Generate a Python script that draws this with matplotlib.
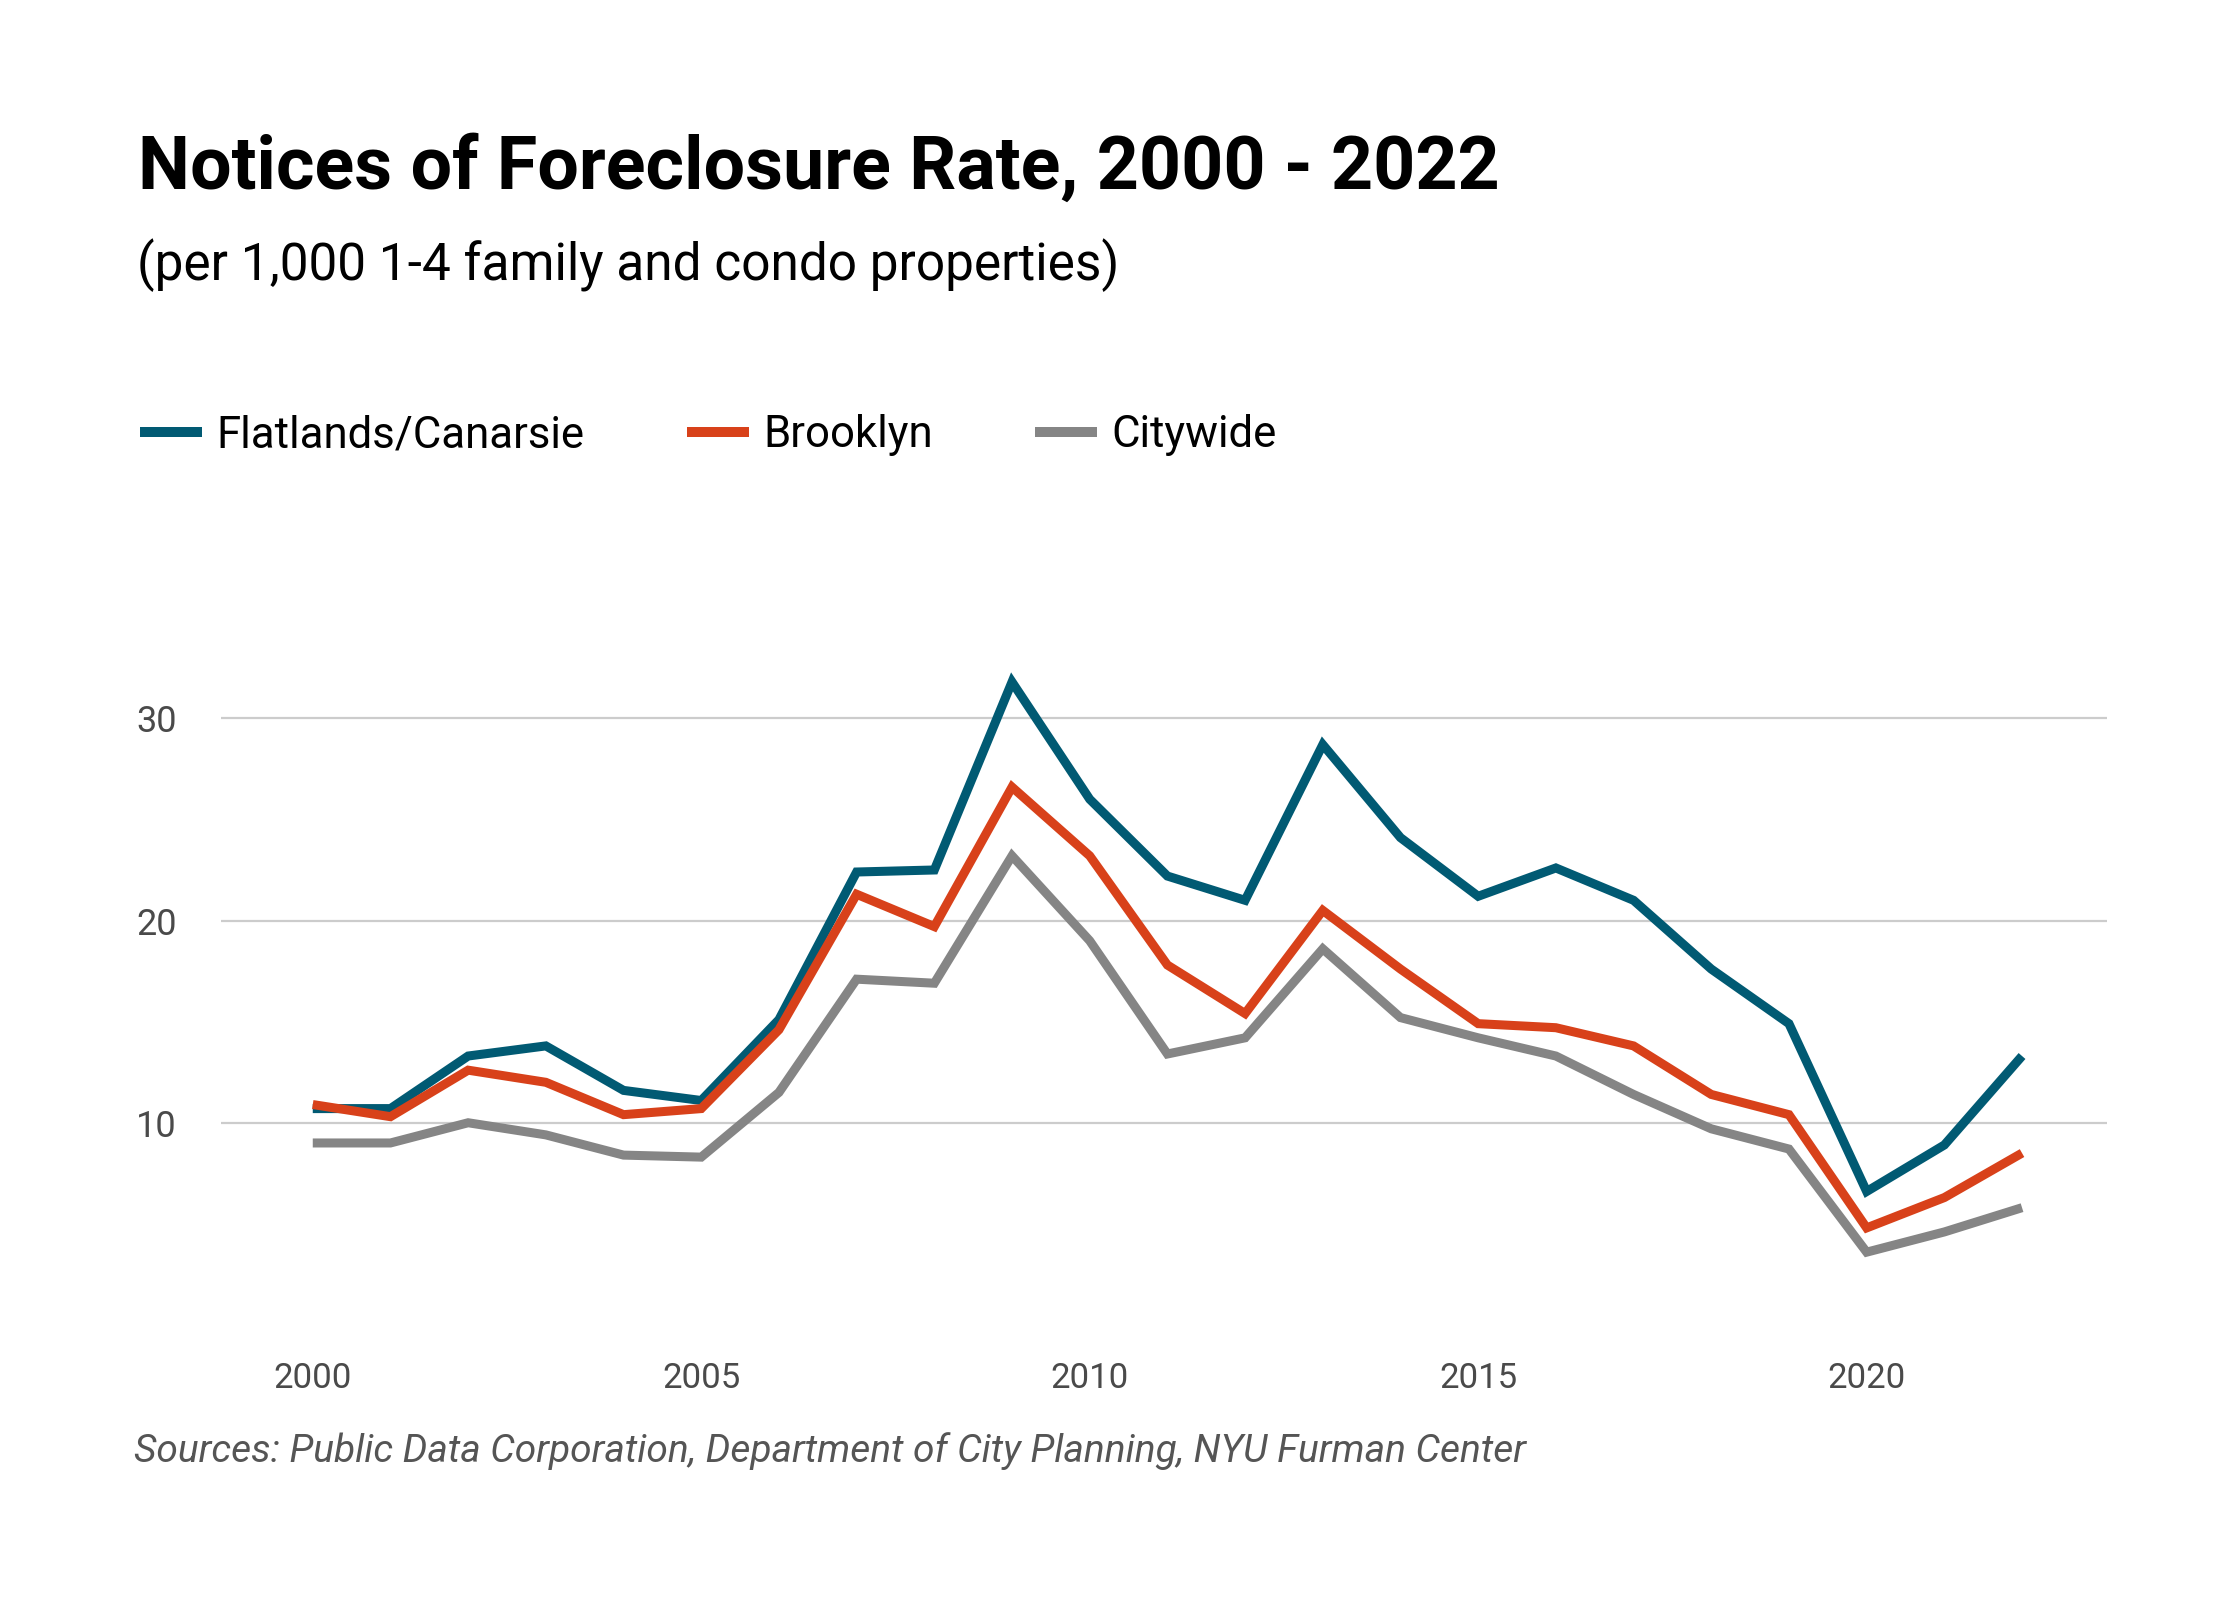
import numpy as np
import matplotlib
matplotlib.use("Agg")
import matplotlib.pyplot as plt

years = list(range(2000, 2023))
flatlands = [10.7, 10.7, 13.3, 13.8, 11.6, 11.1, 15.1, 22.4, 22.5, 31.8, 26.0, 22.2,
             21.0, 28.7, 24.1, 21.2, 22.6, 21.0, 17.6, 14.9, 6.6, 8.9, 13.3]
brooklyn = [10.9, 10.3, 12.6, 12.0, 10.4, 10.7, 14.6, 21.3, 19.7, 26.6, 23.2, 17.8,
            15.4, 20.5, 17.6, 14.9, 14.7, 13.8, 11.4, 10.4, 4.8, 6.3, 8.5]
citywide = [9.0, 9.0, 10.0, 9.4, 8.4, 8.3, 11.5, 17.1, 16.9, 23.2, 19.0, 13.4,
            14.2, 18.6, 15.2, 14.2, 13.3, 11.4, 9.7, 8.7, 3.6, 4.6, 5.8]
labels = ["Flatlands/Canarsie", "Brooklyn", "Citywide"]
colors = ["#015a73", "#d8411a", "#858585"]
yticks = [10, 20, 30]
xticks = [2000, 2005, 2010, 2015, 2020]

plt.rcParams["font.family"] = ["Roboto", "DejaVu Sans"]

fig = plt.figure(figsize=(22.4, 16), dpi=100)
# eixo posicionado em fração da figura (y=0 embaixo, y=34 no topo)
ax = fig.add_axes([0.0987, 0.1719, 0.8418, 0.4297])

for serie, lab, cor in zip([flatlands, brooklyn, citywide], labels, colors):
    ax.plot(years, serie, color=cor, lw=6.5, label=lab,
            solid_joinstyle="miter", solid_capstyle="butt")

ax.set_xlim(1998.82, 2023.09)
ax.set_ylim(0, 34)
ax.set_yticks(yticks)
ax.set_xticks(xticks)
ax.grid(axis="y", color="#cccccc", lw=1.6)
ax.set_axisbelow(True)
for s in ax.spines.values():
    s.set_visible(False)
ax.tick_params(axis="y", length=0, labelsize=26, labelcolor="#4a4a4a", pad=61)
ax.tick_params(axis="x", length=0, labelsize=25, labelcolor="#4a4a4a", pad=27)
for t in ax.get_yticklabels():
    t.set_horizontalalignment("left")

fig.text(0.0615, 0.8823, "Notices of Foreclosure Rate, 2000 - 2022", fontsize=53,
         fontweight="bold", color="black", va="baseline")
fig.text(0.061, 0.825, "(per 1,000 1-4 family and condo properties)", fontsize=37,
         color="black", va="baseline")
fig.text(0.06, 0.0864, "Sources: Public Data Corporation, Department of City Planning, NYU Furman Center",
         fontsize=28, style="italic", color="#555555", va="baseline")

leg = ax.legend(loc="center left", bbox_to_anchor=(0.0625, 0.728), bbox_transform=fig.transFigure,
                ncol=3, frameon=False, fontsize=31.5, handlelength=1.42, handletextpad=0.33,
                columnspacing=2.33, borderpad=0, borderaxespad=0)
for h in leg.get_lines():
    h.set_linewidth(7.2)

fig.savefig("out.png", dpi=100, facecolor="white")
